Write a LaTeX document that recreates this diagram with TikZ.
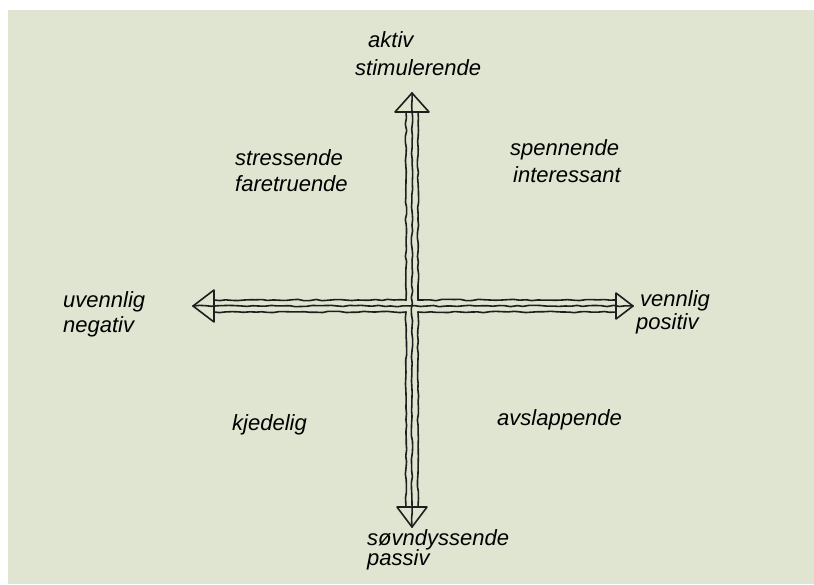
\documentclass[tikz,border=0pt]{standalone}
\usepackage{fontspec}
\setmainfont{Liberation Sans}
\usetikzlibrary{decorations.pathmorphing}
\definecolor{paper}{HTML}{DFE5D0}
\definecolor{ink}{HTML}{1E1E1E}
\tikzset{
  wobble/.style={ink, line width=1.6pt, line cap=round, line join=round,
    decorate, decoration={random steps, segment length=6pt, amplitude=0.7pt}},
  head/.style={ink, line width=1.6pt, line join=round},
  word/.style={anchor=west, inner sep=0pt, font=\fontsize{22}{26}\selectfont\itshape}
}
\begin{document}
\begin{tikzpicture}[x=1pt, y=-1pt]
				\pgfmathsetseed{7}
				\fill[white] (0,0) rectangle (814,584);
				\fill[paper] (8,10) rectangle (814,584);
				\useasboundingbox (0,0) rectangle (814,584);
				
				% tips of the four arrows
				\coordinate (top) at (412,93);
				\coordinate (bot) at (412,527);
				\coordinate (lft) at (193,306);
				\coordinate (rgt) at (633,306);
				
				% heads
				\draw[head] (top) -- ++(-17,19) -- ++(34,0) -- cycle;
				\draw[head] (bot) -- ++(-15,-20) -- ++(30,0) -- cycle;
				\draw[head] (lft) -- ++(21,-16) -- ++(0,32) -- cycle;
				\draw[head] (rgt) -- ++(-17,-13) -- ++(0,26) -- cycle;
				
				% middle lines
				\draw[wobble] (top) -- (bot);
				\draw[wobble] (lft) -- (rgt);
				
				% outer lines of the cross
				\foreach \dx in {-6,6} {
					\draw[wobble] ([xshift=\dx pt, yshift=-19pt]top) -- ([xshift=\dx pt]412,300);
					\draw[wobble] ([xshift=\dx pt]412,312) -- ([xshift=\dx pt, yshift=20pt]bot);
				}
				\foreach \dy in {-6,6} {
					\draw[wobble] ([xshift=21pt, yshift=\dy pt]lft) -- ([yshift=\dy pt]406,306);
					\draw[wobble] ([yshift=\dy pt]418,306) -- ([xshift=-17pt, yshift=\dy pt]rgt);
				}
				
				% labels
				\node[word] (akt) at (368,40) {aktiv};
				\node[word] (sti) at (355,68) {stimulerende};
				\node[word] (str) at (235,158) {stressende};
				\node[word] (far) at (235,184) {faretruende};
				\node[word] (spe) at (510,150) {spennende};
				\node[word] (int) at (513,175) {interessant};
				\node[word] (uve) at (63,302) {uvennlig};
				\node[word] (neg) at (63,327) {negativ};
				\node[word] (ven) at (640,301) {vennlig};
				\node[word] (pos) at (636,324) {positiv};
				\node[word] (kje) at (232,425) {kjedelig};
				\node[word] (avs) at (497,420) {avslappende};
				\node[word] (sov) at (367,540) {søvndyssende};
				\node[word] (pas) at (367,560) {passiv};
			\end{tikzpicture}
\end{document}
